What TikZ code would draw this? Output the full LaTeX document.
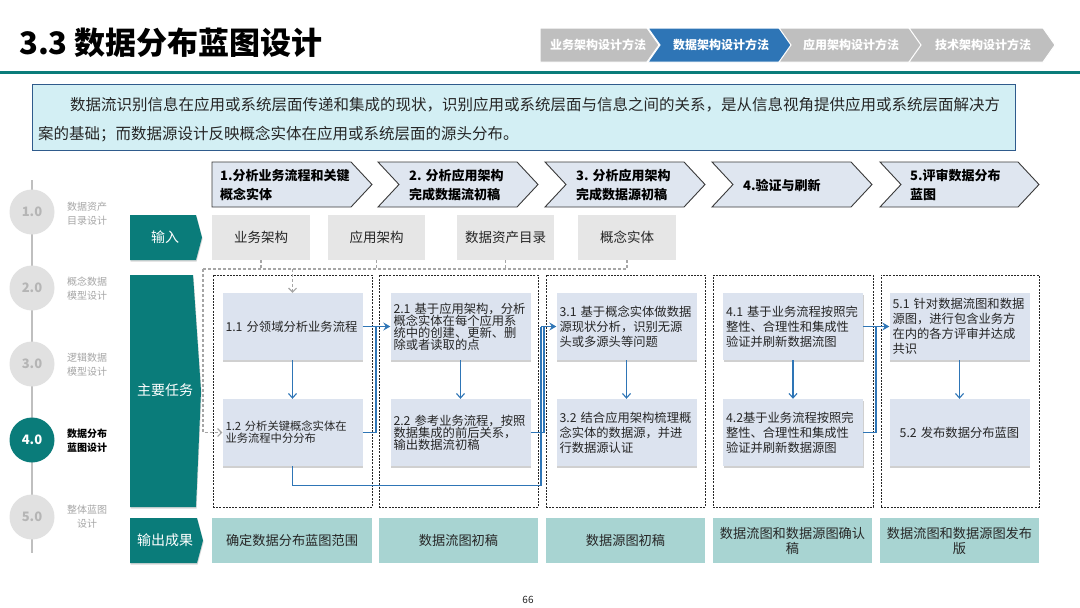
\documentclass[tikz,border=0pt]{standalone}
\usepackage{fontspec}
\setmainfont{Noto Sans CJK SC}
\usetikzlibrary{arrows.meta,shadows}
\definecolor{teal1}{HTML}{0A7C7A}
\definecolor{taskfill}{HTML}{DCE3EF}
\definecolor{outfill}{HTML}{A8D4D2}
\definecolor{infill}{HTML}{E6E6E6}
\definecolor{stepfill}{HTML}{DFE6F0}
\definecolor{stepborder}{HTML}{3A3A3A}
\definecolor{descfill}{HTML}{D3EFF4}
\definecolor{descborder}{HTML}{2F5B8C}
\definecolor{navgray}{HTML}{BFBFBF}
\definecolor{navblue}{HTML}{2E75B6}
\definecolor{flowblue}{HTML}{2E75B6}
\definecolor{dashgray}{HTML}{A6A6A6}
\definecolor{circgray}{HTML}{E1E1E1}
\definecolor{circtext}{HTML}{B5B5B5}
\definecolor{tllabel}{HTML}{A6A6A6}
\definecolor{textdark}{HTML}{262626}
\tikzset{
  task/.style={fill=taskfill, minimum width=140pt, minimum height=67pt, inner xsep=3pt,
    text width=134pt, align=left, text=textdark, font=\fontsize{12.3}{15}\selectfont,
    drop shadow={shadow xshift=0.6pt, shadow yshift=-1.8pt, fill=black!30, opacity=0.6}},
  tight/.style={font=\fontsize{12.3}{12}\selectfont},
  colbox/.style={draw=black!85, line width=0.8pt, dash pattern=on 2pt off 1.2pt, minimum height=232pt},
  outbox/.style={fill=outfill, minimum height=45pt, text=textdark, align=center, font=\fontsize{13.2}{15}\selectfont},
  inbox/.style={fill=infill, minimum height=45pt, text=textdark, font=\fontsize{13.5}{15}\selectfont},
  steptext/.style={anchor=west, align=left, font=\fontsize{13}{19}\selectfont\bfseries, text=black, inner sep=0pt},
  navtext/.style={text=white, font=\fontsize{12}{12}\selectfont\bfseries, inner sep=0pt},
  navshape/.style={draw=white, line width=1pt},
  stepshape/.style={fill=stepfill, draw=stepborder, line width=0.9pt},
  tealshape/.style={fill=teal1, drop shadow={shadow xshift=0.6pt, shadow yshift=-1.5pt, fill=black!30, opacity=0.5}},
  tealtext/.style={text=white, font=\fontsize{14}{16}\selectfont},
  circ/.style={circle, fill=circgray, minimum size=45pt, inner sep=0pt, text=circtext, font=\fontsize{13}{13}\selectfont\bfseries},
  tllab/.style={align=center, text=tllabel, font=\fontsize{10}{14}\selectfont},
  gd/.style={draw=dashgray, line width=1.1pt, dash pattern=on 3pt off 2pt},
  gda/.style={gd, -{Straight Barb[length=4pt,width=8pt]}},
  bline/.style={draw=flowblue, line width=1.1pt},
  bdown/.style={bline, -{Straight Barb[length=4.5pt,width=8pt]}},
  bright/.style={bline, -{Stealth[length=7pt,width=8pt,inset=2.5pt]}}
}
\begin{document}
\begin{tikzpicture}[x=1pt,y=-1pt]
\useasboundingbox (0,0) rectangle (1080,608);
\fill[white] (0,0) rectangle (1080,608);

% title
\node[anchor=west, font=\fontsize{31}{31}\selectfont\bfseries, inner sep=0pt] (title) at (19,43) {3.3 数据分布蓝图设计};
\draw[teal1, line width=3pt] (0,72) -- (1080,72);

% navigation chevrons
\path[navshape, fill=navgray] (540,28) -- (647,28) -- (659,45) -- (647,62) -- (540,62) -- cycle;
\path[navshape, fill=navblue] (648,28) -- (781,28) -- (793,45) -- (781,62) -- (648,62) -- (660,45) -- cycle;
\path[navshape, fill=navgray] (779,28) -- (911,28) -- (923,45) -- (911,62) -- (779,62) -- (791,45) -- cycle;
\path[navshape, fill=navgray] (909,28) -- (1043,28) -- (1055,45) -- (1043,62) -- (909,62) -- (921,45) -- cycle;
\node[navtext] (nav1) at (598,45) {业务架构设计方法};
\node[navtext] (nav2) at (721,45) {数据架构设计方法};
\node[navtext] (nav3) at (851,45) {应用架构设计方法};
\node[navtext] (nav4) at (983,45) {技术架构设计方法};

% description
\node[draw=descborder, fill=descfill, line width=0.8pt, minimum width=983pt, minimum height=66pt, inner sep=0pt] (desc) at (523.5,117) {};
\node[anchor=west, inner sep=0pt, text=textdark, font=\fontsize{15.5}{15.5}\selectfont] (desc1) at (70,105) {数据流识别信息在应用或系统层面传递和集成的现状，识别应用或系统层面与信息之间的关系，是从信息视角提供应用或系统层面解决方};
\node[anchor=west, inner sep=0pt, text=textdark, font=\fontsize{15.5}{15.5}\selectfont] (desc2) at (38,134) {案的基础；而数据源设计反映概念实体在应用或系统层面的源头分布。};

% timeline
\draw[navgray, line width=2pt] (32,180) -- (32,553);
\node[circ] (c1) at (32,212) {1.0};
\node[circ] (c2) at (32,288) {2.0};
\node[circ] (c3) at (32,364) {3.0};
\node[circ, fill=teal1, text=white] (c4) at (32,440) {4.0};
\node[circ] (c5) at (32,517) {5.0};
\node[tllab] (l1) at (87,214) {数据资产\\目录设计};
\node[tllab] (l2) at (87,289) {概念数据\\模型设计};
\node[tllab] (l3) at (87,365) {逻辑数据\\模型设计};
\node[tllab, text=black, font=\fontsize{10}{14}\selectfont\bfseries] (l4) at (87,441) {数据分布\\蓝图设计};
\node[tllab] (l5) at (87,517) {整体蓝图\\设计};

% step headers
\path[stepshape] (212,162) -- (351,162) -- (372,184.5) -- (351,207) -- (212,207) -- cycle;
\path[stepshape] (378,162) -- (517,162) -- (538,184.5) -- (517,207) -- (378,207) -- (399,184.5) -- cycle;
\path[stepshape] (545,162) -- (684,162) -- (705,184.5) -- (684,207) -- (545,207) -- (566,184.5) -- cycle;
\path[stepshape] (712,162) -- (851,162) -- (872,184.5) -- (851,207) -- (712,207) -- (733,184.5) -- cycle;
\path[stepshape] (880,162) -- (1018,162) -- (1039,184.5) -- (1018,207) -- (880,207) -- (901,184.5) -- cycle;
\node[steptext] (s1) at (220,185) {1.分析业务流程和关键\\概念实体};
\node[steptext] (s2) at (409,185) {2. 分析应用架构\\完成数据流初稿};
\node[steptext] (s3) at (576,185) {3. 分析应用架构\\完成数据源初稿};
\node[steptext] (s4) at (743,185) {4.验证与刷新};
\node[steptext] (s5) at (910,185) {5.评审数据分布\\蓝图};

% left teal shapes
\path[tealshape] (130,215) -- (196,215) -- (202,237.5) -- (196,260) -- (130,260) -- cycle;
\path[tealshape] (130,275) -- (193,275) -- (201,391) -- (196,507) -- (130,507) -- cycle;
\path[tealshape] (130,518) -- (197,518) -- (203,540.5) -- (197,563) -- (130,563) -- cycle;
\node[tealtext] (lin) at (165,237.5) {输入};
\node[tealtext] (ltask) at (165,390) {主要任务};
\node[tealtext] (lout) at (165,540.5) {输出成果};

% inputs
\node[inbox, minimum width=98pt] (in1) at (261,237.5) {业务架构};
\node[inbox, minimum width=97pt] (in2) at (376.5,237.5) {应用架构};
\node[inbox, minimum width=97pt] (in3) at (505.5,237.5) {数据资产目录};
\node[inbox, minimum width=98pt] (in4) at (627,237.5) {概念实体};

% column boxes
\node[colbox, minimum width=159pt] (col1) at (292.5,391) {};
\node[colbox, minimum width=159pt] (col2) at (458.5,391) {};
\node[colbox, minimum width=159pt] (col3) at (625.5,391) {};
\node[colbox, minimum width=160pt] (col4) at (793,391) {};
\node[colbox, minimum width=158pt] (col5) at (960,391) {};

% tasks
\node[task] (t11) at (292.5,326.5) {1.1~分领域分析业务流程};
\node[task, font=\fontsize{11.3}{12}\selectfont] (t12) at (292.5,432.5) {1.2~分析关键概念实体在\\业务流程中分分布};
\node[task, tight] (t21) at (460.5,326.5) {2.1~基于应用架构，分析\\概念实体在每个应用系\\统中的创建、更新、删\\除或者读取的点};
\node[task, tight] (t22) at (460.5,432.5) {2.2~参考业务流程，按照\\数据集成的前后关系，\\输出数据流初稿\\[6pt]};
\node[task] (t31) at (626.5,326.5) {3.1~基于概念实体做数据\\源现状分析，识别无源\\头或多源头等问题};
\node[task] (t32) at (626.5,432.5) {3.2~结合应用架构梳理概\\念实体的数据源，并进\\行数据源认证};
\node[task] (t41) at (793,326.5) {4.1~基于业务流程按照完\\整性、合理性和集成性\\验证并刷新数据流图};
\node[task] (t42) at (793,432.5) {4.2基于业务流程按照完\\整性、合理性和集成性\\验证并刷新数据源图};
\node[task] (t51) at (959.5,326.5) {5.1~针对数据流图和数据\\源图，进行包含业务方\\在内的各方评审并达成\\共识};
\node[task, align=center] (t52) at (959.5,432.5) {5.2~发布数据分布蓝图};

% outputs
\node[outbox, minimum width=160pt] (o1) at (292,540.5) {确定数据分布蓝图范围};
\node[outbox, minimum width=159pt] (o2) at (458.5,540.5) {数据流图初稿};
\node[outbox, minimum width=159pt] (o3) at (625.5,540.5) {数据源图初稿};
\node[outbox, minimum width=159pt] (o4) at (792.5,540.5) {数据流图和数据源图确认\\稿};
\node[outbox, minimum width=159pt] (o5) at (959.5,540.5) {数据流图和数据源图发布\\版};

% gray dashed input bus
\coordinate (busL) at (203,269);
\coordinate (busR) at (627,269);
\draw[gd] (in1.south) -- (in1.south |- busL);
\draw[gd] (in2.south) -- (in2.south |- busL);
\draw[gd] (in3.south) -- (in3.south |- busL);
\draw[gd] (in4.south) -- (busR);
\draw[gd] (busL) -- (busR);
\draw[gda] (t11.north |- busL) -- (t11.north);
\draw[gda] (busL) |- (t12.west);

% blue flows
\coordinate (j12) at (376,326.5);
\coordinate (j23a) at (541,326.5);
\coordinate (j23b) at (544,326.5);
\coordinate (j45) at (876,326.5);
\draw[bdown] (t11.south) -- (t12.north);
\draw[bright] (t11.east) -- (t21.west);
\draw[bline] (t12.east) -| (j12);
\draw[bline] (t12.south) -- ++(0,19) -| (j23a);
\draw[bdown] (t21.south) -- (t22.north);
\draw[bline] (t22.east) -| (j23b);
\draw[bright] (j23a) -- (t31.west);
\draw[bdown] (t31.south) -- (t32.north);
\draw[bdown] (t41.south) -- (t42.north);
\draw[bright] (t41.east) -- (t51.west);
\draw[bline] (t42.east) -| (j45);
\draw[bdown] (t51.south) -- (t52.north);

% page number
\node[text=textdark, font=\fontsize{10}{10}\selectfont] (page) at (528,600) {66};
\end{tikzpicture}
\end{document}
